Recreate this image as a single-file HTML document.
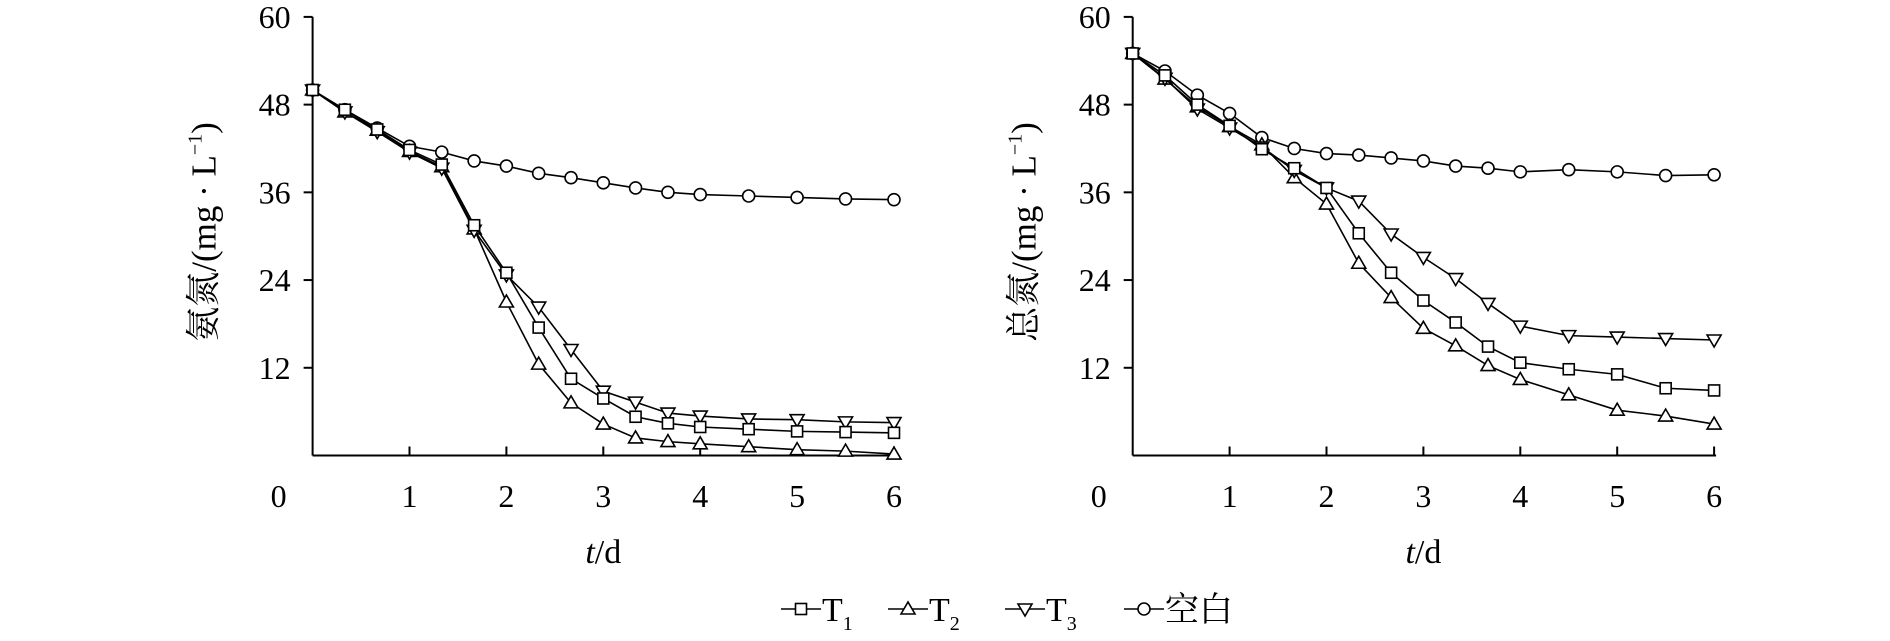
<!DOCTYPE html>
<html><head><meta charset="utf-8"><style>
html,body{margin:0;padding:0;background:#fff;}
svg{display:block;}
text{font-family:"Liberation Serif","Noto Serif CJK SC",serif;fill:#000;}
</style></head><body>
<svg id="s" width="1890" height="641" viewBox="0 0 1890 641" xmlns="http://www.w3.org/2000/svg"></svg>
<script>
const S=document.getElementById('s');let h='';
const Y0=455.5,PY=7.31,PD=96.9;
const tL=[0,0.333,0.667,1,1.333,1.667,2,2.333,2.667,3,3.333,3.667,4,4.5,5,5.5,6];
function mk(type,x,y){const r=6;
 if(type=='o')return `<circle cx="${x}" cy="${y}" r="${r}" fill="#fff" stroke="#000" stroke-width="1.6"/>`;
 if(type=='s')return `<rect x="${x-r+0.5}" y="${y-r+0.5}" width="${2*r-1}" height="${2*r-1}" fill="#fff" stroke="#000" stroke-width="1.6"/>`;
 if(type=='u')return `<polygon points="${x},${y-r-1} ${x-r-1},${y+r-1} ${x+r+1},${y+r-1}" fill="#fff" stroke="#000" stroke-width="1.6"/>`;
 return `<polygon points="${x},${y+r+1} ${x-r-1},${y-r+1} ${x+r+1},${y-r+1}" fill="#fff" stroke="#000" stroke-width="1.6"/>`;}
function chart(X0,title,series){
 h+=`<line x1="${X0}" y1="${Y0}" x2="${X0+6*PD+2}" y2="${Y0}" stroke="#000" stroke-width="2"/>`;
 h+=`<line x1="${X0}" y1="${Y0}" x2="${X0}" y2="${Y0-60*PY}" stroke="#000" stroke-width="2"/>`;
 for(let v=12;v<=60;v+=12){const y=Y0-v*PY;h+=`<line x1="${X0-9}" y1="${y}" x2="${X0}" y2="${y}" stroke="#000" stroke-width="2"/>`;
  h+=`<text x="${X0-22}" y="${y+11}" font-size="32" text-anchor="end">${v}</text>`;}
 h+=`<text x="${X0-34}" y="507" font-size="32" text-anchor="middle">0</text>`;
 for(let d=1;d<=6;d++){const x=X0+d*PD;h+=`<line x1="${x}" y1="${Y0}" x2="${x}" y2="${Y0-9}" stroke="#000" stroke-width="2"/>`;
  h+=`<text x="${x}" y="507" font-size="32" text-anchor="middle">${d}</text>`;}
 h+=`<text x="${X0+3*PD}" y="563" font-size="34" text-anchor="middle"><tspan font-style="italic">t</tspan>/d</text>`;
 h+=`<text transform="translate(${X0-97},${232}) rotate(-90)" font-size="35" text-anchor="middle">${title}/(mg · L<tspan font-size="20" dy="-14">−1</tspan><tspan dy="14">)</tspan></text>`;
 for(const [t,d] of series){const pts=d.map((v,i)=>[X0+tL[i]*PD,Y0-v*PY]);
  h+=`<polyline points="${pts.map(p=>p.join(',')).join(' ')}" fill="none" stroke="#000" stroke-width="1.6"/>`;
  pts.forEach(p=>h+=mk(t,p[0],p[1]));}
}
chart(312.6,'氨氮',[
 ['o',[50,47.3,44.8,42.3,41.5,40.3,39.6,38.6,38,37.3,36.6,36,35.7,35.5,35.3,35.1,35]],
 ['u',[50,47,44.5,41.6,39.5,31,21,12.5,7.2,4.3,2.4,1.9,1.6,1.2,0.8,0.6,0.2]],
 ['d',[50,47,44.3,41.5,39.3,30.8,24.7,20.3,14.5,8.8,7.3,5.8,5.4,5,4.9,4.6,4.5]],
 ['s',[50,47.3,44.6,41.8,39.8,31.5,25,17.5,10.5,7.8,5.3,4.4,3.9,3.6,3.3,3.2,3.1]]]);
chart(1132.7,'总氮',[
 ['o',[55,52.6,49.3,46.8,43.5,42,41.3,41.1,40.7,40.3,39.6,39.3,38.8,39.1,38.8,38.3,38.4]],
 ['u',[55,51.5,47.7,45,42.5,38,34.4,26.3,21.6,17.4,15,12.3,10.4,8.3,6.2,5.4,4.3]],
 ['d',[55,51.6,47.4,44.8,42.2,39,36.6,34.8,30.3,27.1,24.2,20.8,17.7,16.4,16.2,16,15.8]],
 ['s',[55,52,48,45.1,41.9,39.3,36.6,30.4,25,21.2,18.2,14.9,12.7,11.8,11.1,9.2,8.9]]]);
const L=[['s','T','1',781],['u','T','2',888],['d','T','3',1005],['o','空白','',1124]];
for(const [t,a,b,x] of L){const y=609;
 h+=`<line x1="${x}" y1="${y}" x2="${x+40}" y2="${y}" stroke="#000" stroke-width="1.6"/>`+mk(t,x+20,y);
 h+=`<text x="${x+41}" y="${y+12}" font-size="34">${a}${b?`<tspan font-size="20" dy="9">${b}</tspan>`:''}</text>`;}
S.innerHTML=h;
</script>
</body></html>
